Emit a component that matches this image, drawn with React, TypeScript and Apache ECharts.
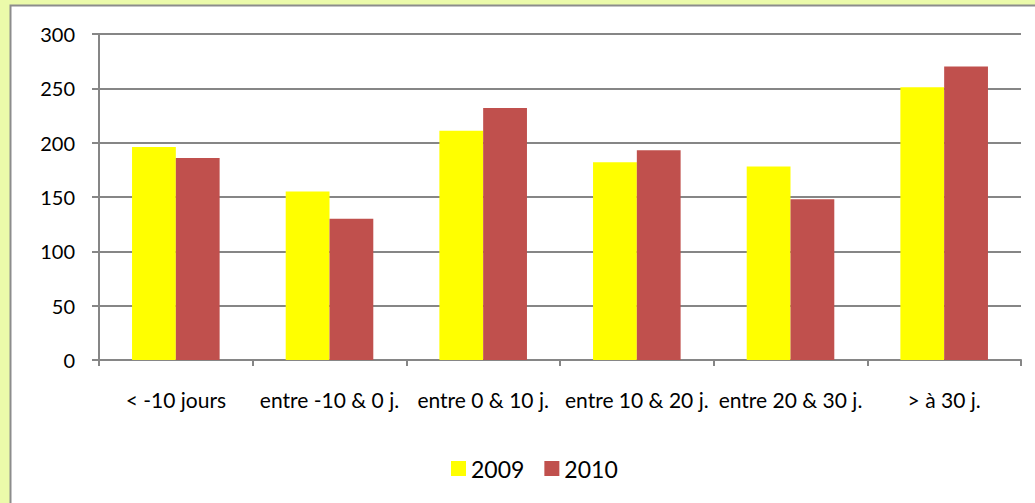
import React, { useEffect, useRef } from "react";
import * as echarts from "echarts";

const categories = ["< -10 jours", "entre -10 & 0 j.", "entre 0 & 10 j.", "entre 10 & 20 j.", "entre 20 & 30 j.", "> à 30 j."];
const values2009 = [196, 155, 211, 182, 178, 251];
const values2010 = [186, 130, 232, 193, 148, 270];
const seriesNames = ["2009", "2010"];
const yTicks = { min: 0, max: 300, interval: 50 };

export default function App() {
  const ref = useRef<HTMLDivElement>(null);
  useEffect(() => {
    if (!ref.current) return;
    const chart = echarts.init(ref.current, null, { renderer: "svg" });
    const font = "Lato";
    chart.setOption({
      animation: false,
      backgroundColor: "#EBFAAA",
      textStyle: { fontFamily: font },
      graphic: [
        {
          type: "rect",
          silent: true,
          z: -10,
          shape: { x: 10.5, y: 5.5, width: 1100, height: 600 },
          style: { fill: "#ffffff", stroke: "#8c8c8c", lineWidth: 2 },
        },
      ],
      grid: { left: 99, right: 14, top: 34, bottom: 143, containLabel: false },
      legend: {
        data: seriesNames,
        left: 446,
        top: 452,
        itemWidth: 15,
        itemHeight: 15,
        itemGap: 20,
        icon: "rect",
        textStyle: { fontFamily: font, fontSize: 23, color: "#000" },
      },
      xAxis: {
        type: "category",
        data: categories,
        axisLine: { lineStyle: { color: "#868686", width: 2 } },
        axisTick: { show: true, length: 6, alignWithLabel: false, lineStyle: { color: "#868686", width: 2 } },
        axisLabel: { margin: 29, fontSize: 21, color: "#000", fontFamily: font, interval: 0 },
      },
      yAxis: {
        type: "value",
        min: yTicks.min,
        max: yTicks.max,
        interval: yTicks.interval,
        axisLine: { show: true, lineStyle: { color: "#868686", width: 2 } },
        axisTick: { show: true, length: 7, lineStyle: { color: "#868686", width: 2 } },
        axisLabel: { margin: 24, fontSize: 20, color: "#000", fontFamily: font },
        splitLine: { lineStyle: { color: "#868686", width: 2 } },
      },
      series: [
        {
          name: seriesNames[0],
          type: "bar",
          data: values2009,
          itemStyle: { color: "#FFFF00" },
          barGap: "0%",
          barCategoryGap: "43%",
        },
        {
          name: seriesNames[1],
          type: "bar",
          data: values2010,
          itemStyle: { color: "#C0504D" },
        },
      ],
    });
    return () => chart.dispose();
  }, []);
  return <div ref={ref} style={{ position: "fixed", left: 0, top: 0, width: 1035, height: 503 }} />;
}
